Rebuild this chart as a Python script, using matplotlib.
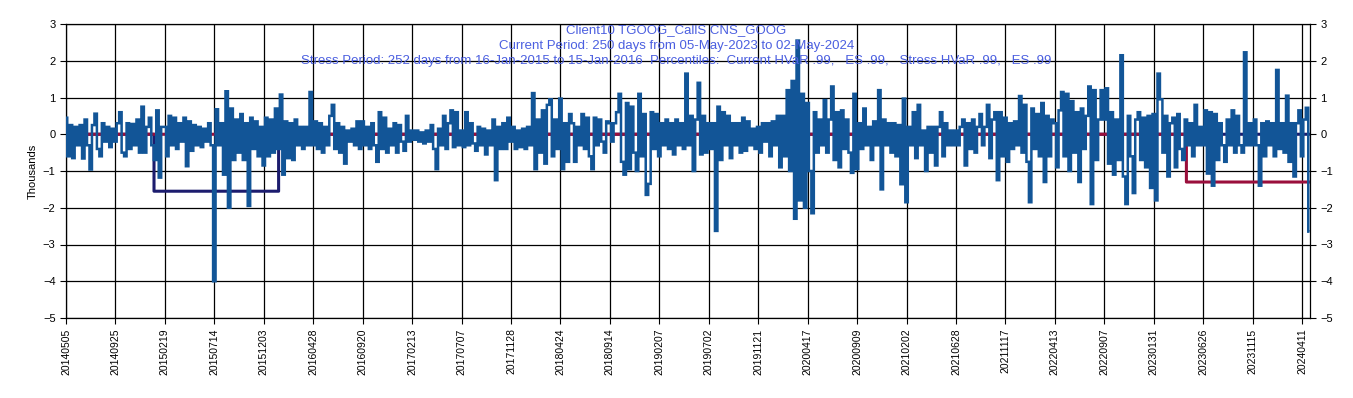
import numpy as np
import matplotlib
matplotlib.use("Agg")
import matplotlib.pyplot as plt

plt.rcParams['font.family'] = ['Liberation Sans', 'DejaVu Sans']

# daily P&L (thousands), every 5th trading day
step = 5
pnl = [
    # 20140505
    0.45, -0.6, 0.25, -0.65, 0.2, -0.3, 0.25, -0.66, 0.4, -0.3, -0.96, 0.25, 0.56, -0.4, -0.6, 0.3, -0.2, 0.2, -0.35, 0.15,
    # 20140925
    -0.2, 0.3, 0.6, -0.5, -0.6, 0.3, -0.4, 0.28, -0.3, 0.4, -0.5, 0.75, -0.5, 0.2, 0.45, -0.3, -0.7, 0.65, -1.18, 0.2,
    # 20150219
    0.2, -0.6, 0.5, -0.3, 0.45, -0.4, 0.3, -0.2, 0.45, -0.87, 0.35, -0.45, 0.25, -0.3, 0.2, -0.35, 0.15, -0.2, 0.3, -0.3,
    # 20150714
    -4.0, 0.68, -0.3, 0.3, -1.1, 1.17, -2.0, 0.7, -0.7, 0.4, -0.5, 0.55, -0.7, 0.3, -1.95, 0.45, -0.4, 0.35, -0.6, 0.2,
    # 20151203
    -0.85, 0.45, -0.6, 0.4, -0.5, 0.7, -0.4, 1.08, -1.1, 0.35, -0.65, 0.3, -0.7, 0.4, -0.3, 0.2, -0.4, 0.2, -0.3, 1.15,
    # 20160428
    -0.3, 0.35, -0.4, 0.3, -0.5, 0.2, -0.3, 0.5, 0.8, -0.4, 0.3, -0.5, 0.2, -0.8, 0.1, -0.2, 0.15, -0.3, 0.35, -0.4,
    # 20160920
    0.35, -0.3, 0.2, -0.4, 0.3, -0.3, -0.75, 0.6, -0.4, 0.45, -0.5, 0.15, -0.3, 0.3, -0.5, 0.25, -0.2, -0.45, 0.5, -0.2,
    # 20170213
    0.1, -0.15, 0.1, -0.2, 0.05, -0.25, 0.1, -0.2, 0.25, -0.4, -0.95, 0.15, -0.3, 0.5, -0.4, 0.3, 0.65, -0.35, 0.6, -0.3,
    # 20170707
    0.1, -0.35, 0.6, -0.3, 0.3, -0.25, -0.45, 0.2, -0.3, 0.15, -0.55, 0.1, -0.3, 0.4, -1.25, 0.2, -0.4, 0.3, -0.4, 0.45,
    # 20171128
    -0.2, 0.2, -0.4, 0.1, -0.35, 0.15, -0.4, 0.2, -0.3, 1.12, -0.95, 0.4, -0.5, 0.65, -0.8, 0.8, 0.95, -0.6, 0.4, -0.4,
    # 20180424
    0.97, -0.95, 0.3, -0.75, 0.55, 0.3, -0.75, 0.2, -0.3, 0.55, -0.4, 0.45, -0.6, -0.95, 0.45, -0.3, 0.4, -0.2, -0.5, 0.35,
    # 20180914
    0.3, -0.2, 0.3, 0.6, 1.1, -0.75, -1.1, 0.85, -0.95, 0.75, -0.5, -1.0, 1.1, -0.6, 0.55, -1.65, -1.35, 0.6, -0.4, 0.55,
    # 20190207
    -0.6, 0.3, -0.3, 0.4, -0.4, 0.3, -0.55, 0.4, -0.3, 0.3, -0.4, 1.65, -0.3, 0.5, -1.0, 0.4, 1.4, -0.55, 0.5, -0.5,
    # 20190702
    0.3, -0.4, 0.3, -2.63, 0.75, -0.7, 0.6, -0.3, 0.5, -0.65, 0.3, -0.3, 0.3, -0.5, 0.45, -0.45, 0.35, -0.3, 0.15, -0.4,
    # 20191121
    0.2, -0.5, 0.3, -0.2, 0.3, -0.6, 0.35, -0.3, 0.5, -0.9, 0.5, -0.6, 1.2, -1.0, 1.45, -2.3, 2.55, -1.8, 1.1, -2.0,
    # 20200417
    0.85, -1.0, -2.15, 0.6, -0.5, 0.4, -0.3, 0.93, -0.5, 0.4, 1.3, -0.7, 0.6, -0.9, 0.65, -0.4, 0.4, -0.5, -1.05, 1.1,
    # 20200909
    -0.95, 0.3, -0.4, 0.7, -0.3, 0.2, -0.7, 0.35, -0.3, 1.2, -1.5, 0.4, -0.3, 0.3, -0.5, 0.3, -0.6, 0.25, -1.36, 0.97,
    # 20210202
    -1.85, 0.2, -0.3, 0.6, -0.65, 0.8, -0.3, 0.1, -1.0, 0.2, -0.5, 0.2, -0.85, 0.2, 0.6, -0.6, 0.3, -0.3, 0.1, -0.3,
    # 20210628
    0.1, -0.3, 0.2, 0.4, -0.85, 0.3, -0.4, 0.4, -0.5, 0.2, 0.55, -0.3, 0.2, 0.8, -0.65, 0.4, 0.6, -1.25, 0.6, -0.6,
    # 20211117
    0.45, -0.75, 0.3, -0.4, 0.35, -0.3, 1.04, -0.5, 0.8, -0.75, -1.85, 0.7, -0.4, 0.55, -0.6, 0.85, -1.3, 0.5, -0.6, 0.4,
    # 20220413
    0.3, -0.9, 0.65, 1.15, -0.6, 1.1, -1.0, 0.9, -0.5, 0.6, -1.3, 0.7, -0.4, 0.5, 1.3, -1.9, 1.2, -0.7, 0.4, 1.2,
    # 20220907
    0.4, 1.25, -0.8, 0.6, -1.1, 0.4, -0.7, 2.15, -1.15, -1.9, 0.5, -0.6, -1.6, 0.4, 0.6, -0.7, 0.45, -0.9, 0.5, -1.46,
    # 20230131
    0.55, -1.8, 1.65, 0.95, -0.5, 0.5, -1.15, 0.3, 0.45, -0.9, 0.55, -0.4, -0.7, 0.4, -0.3, 0.3, -0.6, 0.8, -0.3, 0.2,
    # 20230626
    -0.3, 0.65, -1.07, 0.6, -1.4, 0.55, -0.7, 0.3, -0.3, -0.75, 0.4, -0.3, 0.65, -0.5, 0.5, -0.3, -0.5, 2.23, -0.3, 0.3,
    # 20231115
    -0.3, 0.4, -0.3, -1.4, 0.3, -0.6, 0.35, -0.3, 0.3, -0.6, 1.75, -0.4, 0.3, -0.5, 1.05, -0.75, 0.3, -1.15, 0.3, 0.65,
    # 20240411
    -0.6, 0.4, 0.72, -2.65,
]

# tick labels every 100 trading days
tick_labels = ['20140505', '20140925', '20150219', '20150714', '20151203', '20160428',
               '20160920', '20170213', '20170707', '20171128', '20180424', '20180914',
               '20190207', '20190702', '20191121', '20200417', '20200909', '20210202',
               '20210628', '20211117', '20220413', '20220907', '20230131', '20230626',
               '20231115', '20240411']
tick_every = 100

# VaR step lines (thousands) and their day ranges
stress_start, stress_end, stress_var = 178, 429, -1.55
current_start, current_var = 2266, -1.30

title_lines = ["Client10 TGOOG_CallS CNS_GOOG",
               "Current Period: 250 days from 05-May-2023 to 02-May-2024",
               "Stress Period: 252 days from 16-Jan-2015 to 15-Jan-2016  Percentiles:  "
               "Current HVaR .99,   ES .99,   Stress HVaR .99,   ES .99"]

x = np.arange(len(pnl)) * step
last_day = x[-1]
days = np.arange(0, last_day + 1)
stress_line = np.where((days >= stress_start) & (days <= stress_end), stress_var, 0.0)
current_line = np.where(days >= current_start, current_var, 0.0)

fig = plt.figure(figsize=(13.53, 3.98), dpi=100)
ax = fig.add_axes([66/1353, 1-318/398, (1310-66)/1353, (318-24)/398])

ax.plot(days, stress_line, color='#1c1c6e', lw=2.2, drawstyle='steps-post', zorder=3)
ax.plot(days, current_line, color='#9a0f3c', lw=2.2, drawstyle='steps-post', zorder=4)
# stepped line gives the dense bar look of the original
ax.plot(x, pnl, color='#125597', lw=1.8, drawstyle='steps-mid', snap=False,
        solid_joinstyle='miter', solid_capstyle='butt', zorder=5)

ax.set_xlim(0, last_day + 1)
ax.set_ylim(-5, 3)
ax.set_yticks(range(-5, 4))
ticks = np.arange(len(tick_labels)) * tick_every
ax.set_xticks(ticks)
ax.set_xticklabels(tick_labels, rotation=90, fontsize=7.5)
ax.tick_params(axis='y', labelsize=8, right=True, labelright=True, length=4, width=0.8)
ax.tick_params(axis='x', length=4, width=0.8)
ax.grid(True, color='black', lw=0.9)
ax.set_axisbelow(True)
for s in ax.spines.values():
    s.set_linewidth(0.9)
ax.set_ylabel('Thousands', fontsize=8)

# three centred title lines over the top of the plot
for i, line in enumerate(title_lines):
    fig.text(0.5, 1 - (30 + 15.5 * i) / 398, line, ha='center', va='center',
             color='#4b5fe0', fontsize=9.5, zorder=10)

fig.savefig('out.png', dpi=100)
